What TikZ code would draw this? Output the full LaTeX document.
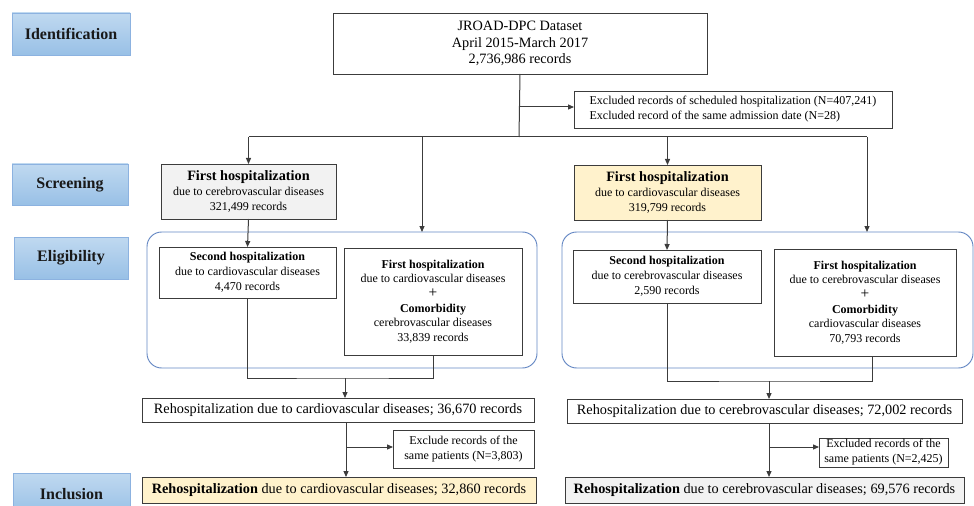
\documentclass[tikz,border=0pt]{standalone}
\usepackage{fontspec}
\setmainfont{Liberation Serif}
\usetikzlibrary{arrows.meta,calc}
\definecolor{lbltop}{RGB}{192,217,240}
\definecolor{lblbot}{RGB}{152,192,230}
\definecolor{lblborder}{RGB}{140,178,224}
\definecolor{boxline}{RGB}{60,60,60}
\definecolor{greyfill}{RGB}{242,242,242}
\definecolor{yelfill}{RGB}{255,242,204}
\definecolor{grpline}{RGB}{100,135,195}
\newcommand{\mkbox}[7]{\node[#6, minimum width={(#4-#2)*0.75pt}, minimum height={(#5-#3)*0.75pt}] (#1) at ({(#2+#4)/2},{(#3+#5)/2}) {#7};}
\newcommand{\hdtxt}[1]{{\fontsize{10.7}{11.25}\selectfont\bfseries #1}}
\newcommand{\plustxt}{{\fontsize{11.5}{11}\selectfont +}}
\begin{document}
\begin{tikzpicture}[x=0.75pt,y=-0.75pt,
  lbl/.style={draw=lblborder, top color=lbltop, bottom color=lblbot, line width=0.6pt, inner sep=0pt, text=black!90, font=\fontsize{12}{14}\selectfont\bfseries},
  bx/.style={draw=boxline, line width=0.7pt, fill=white, align=center, inner sep=0pt, outer sep=0pt, font=\fontsize{9}{11}\selectfont},
  bigbx/.style={bx, font=\fontsize{10.7}{12.5}\selectfont},
  midbx/.style={bx, font=\fontsize{9}{11.25}\selectfont},
  greybx/.style={fill=greyfill},
  yelbx/.style={fill=yelfill},
  grp/.style={draw=grpline, line width=0.7pt, rounded corners=11pt, inner sep=0pt, outer sep=0pt},
  ln/.style={draw=boxline, line width=0.75pt},
  arr/.style={ln, -{Triangle[length=4.5pt,width=3.8pt]}}
]
\useasboundingbox (0,0) rectangle (974,506);
\begin{scope}
\clip (0,0) rectangle (974,506);
% stage labels
\mkbox{idlab}{12}{13}{130}{55}{lbl}{Identification}
\mkbox{scrlab}{12}{164}{128}{205}{lbl}{Screening}
\mkbox{elilab}{14}{237}{128}{279}{lbl}{Eligibility}
\mkbox{inclab}{13}{473}{130}{515}{lbl}{Inclusion}
\end{scope}
% groups
\mkbox{gL}{147}{232}{537}{368}{grp}{}
\mkbox{gR}{562}{232}{973}{368}{grp}{}
% boxes
\mkbox{jroad}{333}{13}{707}{74}{bigbx, font=\fontsize{10.7}{12.6}\selectfont}{JROAD-DPC Dataset\\April 2015-March 2017\\2,736,986 records}
\mkbox{excl1}{574}{91}{892}{128}{midbx, align=left}{Excluded records of scheduled hospitalization (N=407,241)\\Excluded record of the same admission date (N=28)}
\mkbox{fh1}{161}{164}{336}{219}{midbx, greybx}{\hdtxt{First hospitalization}\\due to cerebrovascular diseases\\321,499 records}
\mkbox{fh2}{574}{165}{761}{220}{midbx, yelbx}{\hdtxt{First hospitalization}\\due to cardiovascular diseases\\319,799 records}
\mkbox{sh1}{159}{247}{336}{298}{midbx}{\textbf{Second hospitalization}\\due to cardiovascular diseases\\4,470 records}
\mkbox{cm1}{344}{248}{522}{355}{bx}{\textbf{First hospitalization}\\due to cardiovascular diseases\\\plustxt\\\textbf{Comorbidity}\\cerebrovascular diseases\\33,839 records}
\mkbox{sh2}{573}{250}{761}{303}{midbx}{\textbf{Second hospitalization}\\due to cerebrovascular diseases\\2,590 records}
\mkbox{cm2}{774}{249}{956}{356}{bx}{\textbf{First hospitalization}\\due to cerebrovascular diseases\\\plustxt\\\textbf{Comorbidity}\\cardiovascular diseases\\70,793 records}
\mkbox{rh1}{142}{398}{534}{422}{bigbx}{Rehospitalization due to cardiovascular diseases; 36,670 records}
\mkbox{ex2}{393}{430}{534}{468}{midbx}{Exclude records of the\\same patients (N=3,803)}
\mkbox{fin1}{142}{477}{536}{503}{bigbx, yelbx}{\textbf{Rehospitalization} due to cardiovascular diseases; 32,860 records}
\mkbox{rh2}{567}{399}{962}{423}{bigbx}{Rehospitalization due to cerebrovascular diseases; 72,002 records}
\mkbox{ex3}{819}{438}{948}{467}{midbx}{Excluded records of the\\same patients (N=2,425)}
\mkbox{fin2}{565}{477}{964}{503}{bigbx, greybx}{\textbf{Rehospitalization} due to cerebrovascular diseases; 69,576 records}
% connectors top
\coordinate (hub) at (519,137);
\coordinate (jx) at (519,107);
\coordinate (aL) at (422,137);
\coordinate (aR) at (867,137);
\draw[ln] (jroad.south) -- (hub);
\draw[arr] (jx) -- (excl1.west |- jx);
\draw[ln] (fh1.north |- hub) -- (aR);
\draw[arr] (fh1.north |- hub) -- (fh1.north);
\draw[arr] (aL) -- (aL |- gL.north);
\draw[arr] (fh2.north |- hub) -- (fh2.north);
\draw[arr] (aR) -- (aR |- gR.north);
\draw[arr] (fh1.south) -- (sh1.north);
\draw[arr] (fh2.south) -- (sh2.north);
% merge left
\coordinate (bL) at (345,378);
\draw[ln] (sh1.south) |- (bL) -| (cm1.south);
\draw[arr] (bL) -- (bL |- rh1.north);
% merge right
\coordinate (bR) at (769,381);
\coordinate (cR) at ($(cm2.south)+(7,0)$);
\draw[ln] (sh2.south) |- (bR) -| (cR);
\draw[arr] (bR) -- (bR |- rh2.north);
% bottom left
\coordinate (dL) at (346,447);
\draw[arr] (dL |- rh1.south) -- (dL |- fin1.north);
\draw[arr] (dL) -- (dL -| ex2.west);
% bottom right
\coordinate (dR) at (769,447);
\draw[arr] (dR |- rh2.south) -- (dR |- fin2.north);
\draw[arr] (dR) -- (dR -| ex3.west);
\end{tikzpicture}
\end{document}
